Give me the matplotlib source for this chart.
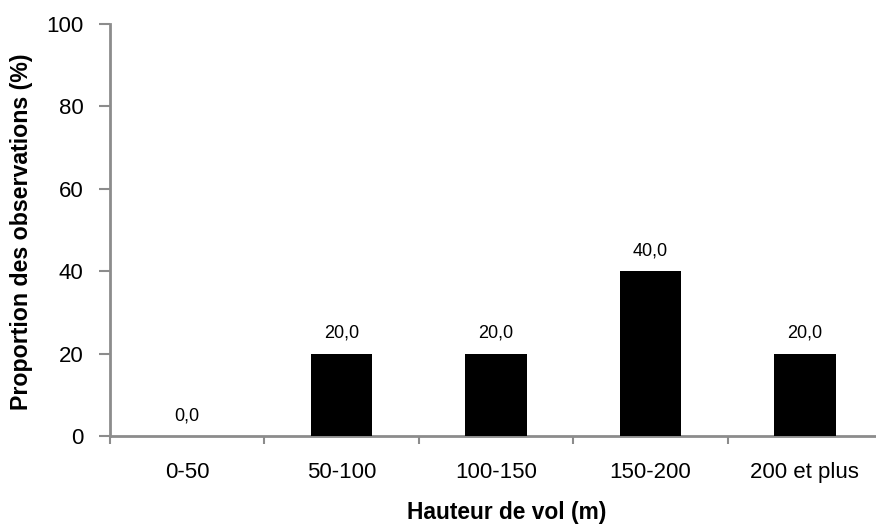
import matplotlib
matplotlib.use("Agg")
import matplotlib.pyplot as plt
from matplotlib import font_manager

categories = ["0-50", "50-100", "100-150", "150-200", "200 et plus"]
values = [0.0, 20.0, 20.0, 40.0, 20.0]
yticks = [0, 20, 40, 60, 80, 100]

names = {f.name for f in font_manager.fontManager.ttflist}
fam = "Liberation Sans Narrow" if "Liberation Sans Narrow" in names else "Liberation Sans"
plt.rcParams['font.family'] = [fam, 'DejaVu Sans']

W, H = 876, 525
fig = plt.figure(figsize=(W/100, H/100), dpi=100)
left, right, top, bottom = 110, 882, 24, 436
ax = fig.add_axes([left/W, (H-bottom)/H, (right-left)/W, (bottom-top)/H])

x = range(len(categories))
ax.bar(x, values, width=0.4, color="black", zorder=3)
ax.set_xlim(-0.5, len(categories)-0.5)
ax.set_ylim(0, 100)
ax.set_yticks(yticks)
ax.set_yticklabels([str(v) for v in yticks], fontsize=16)
ax.set_xticks(list(x))
ax.set_xticklabels(categories, fontsize=16)
ax.tick_params(axis='x', length=0, pad=19)
ax.set_xticks([i-0.5 for i in range(len(categories)+1)], minor=True)
ax.tick_params(axis='x', which='minor', length=6, width=1.5, color="#8c8c8c")
ax.tick_params(axis='y', length=8, width=1.5, color="#8c8c8c", pad=11)

for s in ["top", "right"]:
    ax.spines[s].set_visible(False)
for s in ["left", "bottom"]:
    ax.spines[s].set_color("#8c8c8c")
    ax.spines[s].set_linewidth(2)

for i, v in enumerate(values):
    ax.annotate(f"{v:.1f}".replace(".", ","), (i, v), xytext=(0, 8.5),
                textcoords="offset points", ha="center", va="bottom", fontsize=13)

ax.set_xlabel("Hauteur de vol (m)", fontsize=16.4, fontweight="bold")
ax.set_ylabel("Proportion des observations (%)", fontsize=16.7, fontweight="bold")
ax.xaxis.set_label_coords((507 - left) / (right - left), -(512 - bottom) / (bottom - top), transform=ax.transAxes)
ax.yaxis.set_label_coords(-(left - 22) / (right - left), (bottom - 232) / (bottom - top), transform=ax.transAxes)
ax.xaxis.label.set_va("center")
ax.yaxis.label.set_va("center")

fig.savefig("out.png", dpi=100)
